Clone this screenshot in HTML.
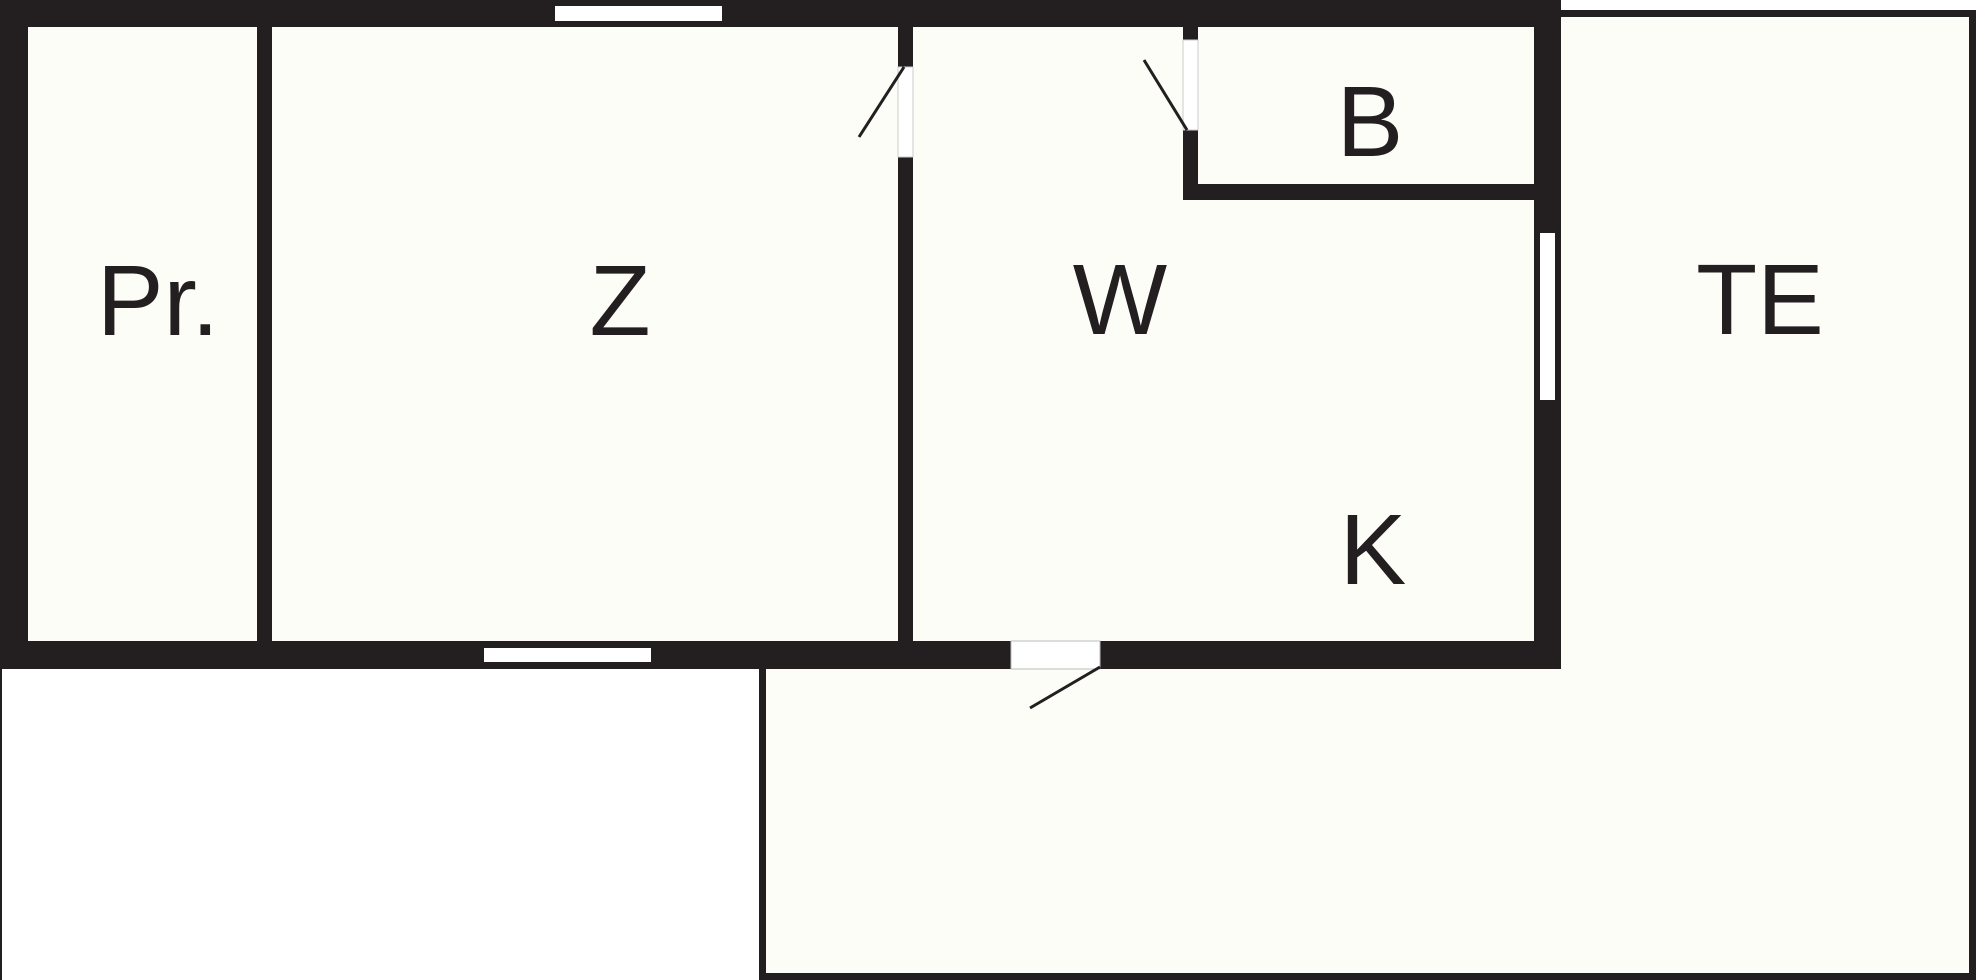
<!DOCTYPE html>
<html><head><meta charset="utf-8"><style>
html,body{margin:0;padding:0;background:#fff;}
svg{display:block}
text{font-family:"Liberation Sans",Arial,sans-serif;font-size:100px;fill:#231f20;text-anchor:middle}
</style></head><body>
<svg width="1980" height="980" viewBox="0 0 1980 980" xmlns="http://www.w3.org/2000/svg">
<rect x="0" y="0" width="1980" height="980" fill="#fff"/>
<rect x="762.5" y="13.5" width="1210" height="963" fill="#fdfdf8" stroke="#231f20" stroke-width="7"/>
<line x1="1" y1="669" x2="1" y2="980" stroke="#231f20" stroke-width="2"/>
<rect x="0" y="0" width="1561" height="669" fill="#231f20"/>
<rect x="28" y="27" width="229" height="614" fill="#fdfdf8"/>
<rect x="272" y="27" width="626" height="614" fill="#fdfdf8"/>
<rect x="913" y="27" width="621" height="614" fill="#fdfdf8"/>
<rect x="1183" y="27" width="15" height="173" fill="#231f20"/>
<rect x="1183" y="184" width="351" height="16" fill="#231f20"/>
<rect x="1183" y="40" width="15" height="90" fill="#fff" stroke="#ccc" stroke-width="1"/>
<rect x="898" y="67" width="15" height="90" fill="#fff" stroke="#ccc" stroke-width="1"/>
<rect x="1011" y="641" width="89" height="28" fill="#fff" stroke="#bbb" stroke-width="1"/>
<rect x="555" y="6" width="167" height="15" fill="#fff"/>
<rect x="484" y="648" width="167" height="14" fill="#fff"/>
<rect x="1540" y="233" width="15" height="167" fill="#fff"/>
<line x1="859" y1="137" x2="904" y2="67" stroke="#231f20" stroke-width="3"/>
<line x1="1144" y1="60" x2="1187" y2="130" stroke="#231f20" stroke-width="3"/>
<line x1="1030" y1="708" x2="1100" y2="667" stroke="#231f20" stroke-width="3"/>
<text x="158" y="335">Pr.</text>
<text x="620" y="335">Z</text>
<text x="1120" y="334">W</text>
<text x="1370" y="156">B</text>
<text x="1373" y="584">K</text>
<text x="1760" y="334">TE</text>
</svg>
</body></html>
